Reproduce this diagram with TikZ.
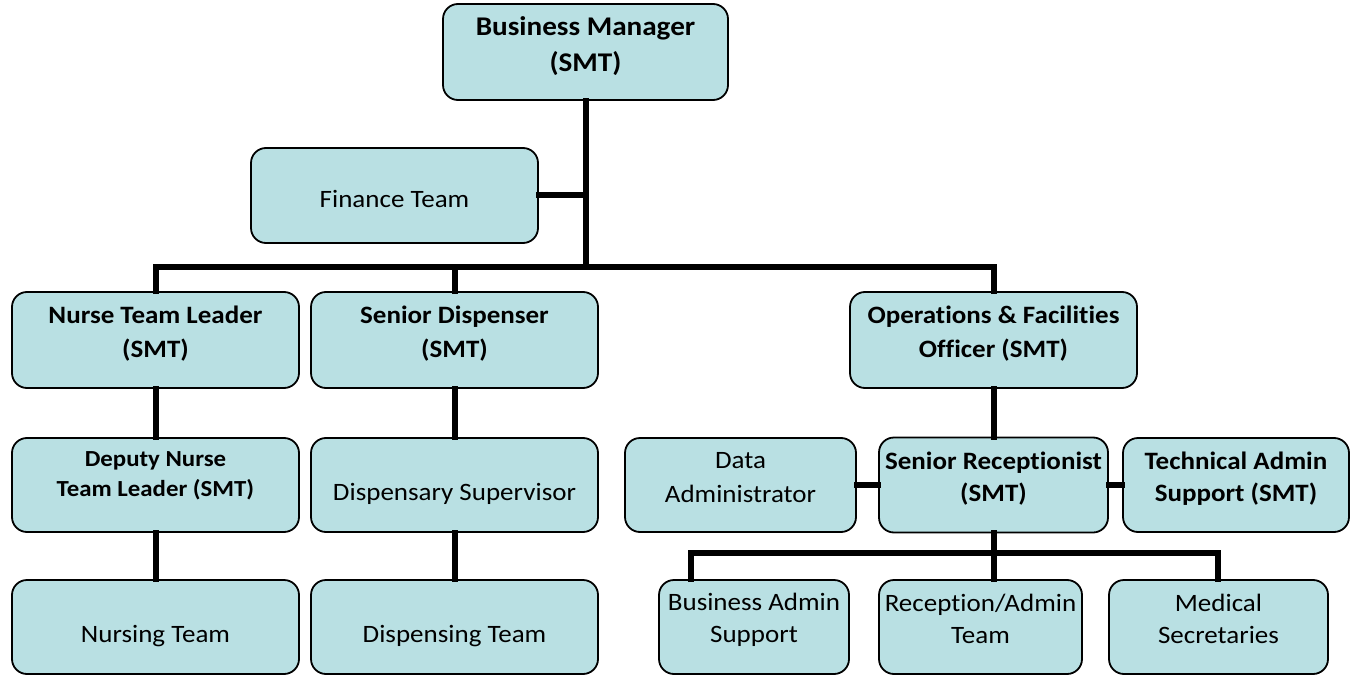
\documentclass[tikz,border=0pt]{standalone}
\usepackage{fontspec}
\setmainfont{Carlito}[Ligatures=NoCommon, FakeStretch=1.08]
\definecolor{boxfill}{RGB}{185,224,227}
\tikzset{
  box/.style={draw=black, line width=1.8pt, fill=boxfill, rounded corners=15pt,
    align=center, inner sep=0pt, font=\fontsize{25}{33}\selectfont},
  bbox/.style={box, font=\fontsize{25}{33}\selectfont\bfseries},
  up/.style={text height=0pt, text depth=#1},
  down/.style={text height=#1, text depth=0pt},
  conn/.style={draw=black, line width=6pt, line join=miter, line cap=rect}
}
\begin{document}
\begin{tikzpicture}[x=1pt,y=-1pt]
\useasboundingbox (0,0) rectangle (1359,676);
\coordinate (bar) at (586,267);
\coordinate (sbar) at (993,553);
% boxes
\node[bbox, minimum width=285pt, minimum height=96pt, font=\fontsize{27}{36}\selectfont\bfseries, down=40pt] (bm) at (585.5,52) {Business Manager\\(SMT)};
\node[box, minimum width=287pt, minimum height=95pt, down=25pt] (fin) at (394.5,195.5) {Finance Team};
\node[bbox, minimum width=287pt, minimum height=96pt, font=\fontsize{25}{34}\selectfont\bfseries, down=34pt] (ntl) at (155.5,340) {Nurse Team Leader\\(SMT)};
\node[bbox, minimum width=287pt, minimum height=96pt, font=\fontsize{25}{34}\selectfont\bfseries, down=34pt] (sd) at (454.5,340) {Senior Dispenser\\(SMT)};
\node[bbox, minimum width=287pt, minimum height=96pt, font=\fontsize{25}{34}\selectfont\bfseries, down=34pt] (ops) at (993.5,340) {Operations \& Facilities\\Officer (SMT)};
\node[bbox, minimum width=287pt, minimum height=94pt, font=\fontsize{23}{30}\selectfont\bfseries, down=22pt] (dep) at (155.5,485) {Deputy Nurse\\Team Leader (SMT)};
\node[box, minimum width=287pt, minimum height=94pt, down=30pt] (dsup) at (454.5,485) {Dispensary Supervisor};
\node[box, minimum width=231pt, minimum height=94pt, font=\fontsize{25}{34}\selectfont, down=34pt] (da) at (740.5,485) {Data\\Administrator};
\node[bbox, minimum width=229pt, minimum height=95pt, font=\fontsize{25}{32}\selectfont\bfseries, down=32pt] (sr) at (993.5,485) {Senior Receptionist\\(SMT)};
\node[bbox, minimum width=226pt, minimum height=94pt, font=\fontsize{25}{32}\selectfont\bfseries, down=32pt] (ta) at (1236,485) {Technical Admin\\Support (SMT)};
\node[box, minimum width=287pt, minimum height=94pt, down=30pt] (nt) at (155.5,627) {Nursing Team};
\node[box, minimum width=287pt, minimum height=94pt, down=30pt] (dt) at (454.5,627) {Dispensing Team};
\node[box, minimum width=190pt, minimum height=94pt, font=\fontsize{25}{32}\selectfont, down=30pt] (ba) at (754,627) {Business Admin\\Support};
\node[box, minimum width=203pt, minimum height=94pt, font=\fontsize{25}{32}\selectfont, down=32pt] (ra) at (980.5,627) {Reception/Admin\\Team};
\node[box, minimum width=219pt, minimum height=94pt, font=\fontsize{25}{32}\selectfont, down=32pt] (ms) at (1218.5,627) {Medical\\Secretaries};
% connectors
\draw[conn] (bm.south -| bar) -- (bar);
\draw[conn] (fin.east) -- (fin.east -| bar);
\draw[conn] (ntl.north) -- (ntl.north |- bar) -- (ops.north |- bar) -- (ops.north);
\draw[conn] (sd.north |- bar) -- (sd.north);
\draw[conn] (ntl.south) -- (dep.north);
\draw[conn] (dep.south) -- (nt.north);
\draw[conn] (sd.south) -- (dsup.north);
\draw[conn] (dsup.south) -- (dt.north);
\draw[conn] (ops.south) -- (sr.north);
\draw[conn] (da.east) -- (sr.west);
\draw[conn] (sr.east) -- (ta.west);
\coordinate (b1) at (691,553);
\coordinate (b3) at (1218,553);
\draw[conn] (sr.south) -- (sr.south |- sbar);
\draw[conn] (b1 |- ba.north) -- (b1) -- (b3) -- (b3 |- ms.north);
\draw[conn] (sr.south |- sbar) -- (sr.south |- ra.north);
\end{tikzpicture}
\end{document}
